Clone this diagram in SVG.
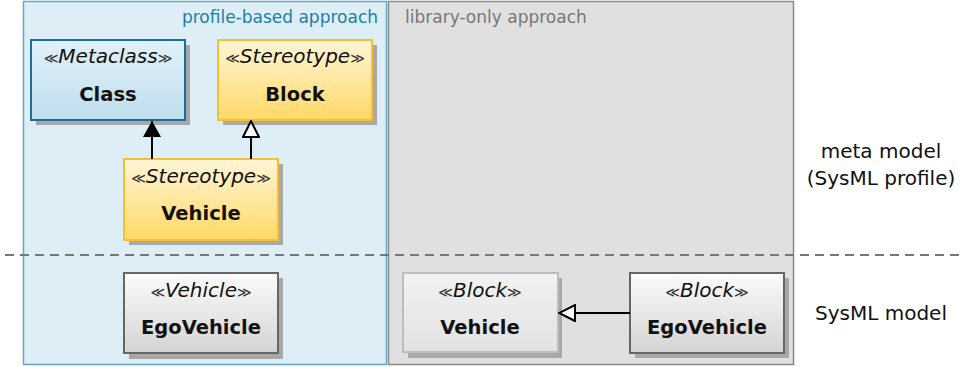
<svg xmlns="http://www.w3.org/2000/svg" width="965" height="367" viewBox="0 0 965 367">
<style>
text{font-family:"DejaVu Sans","Liberation Sans",sans-serif}
.st{font-style:italic;font-size:20px;text-anchor:middle;fill:#111}
.g{font-style:normal;font-size:14px;fill:#333}
.nm{font-weight:bold;font-size:19.5px;text-anchor:middle;fill:#111}
.lbl{font-size:20px;text-anchor:middle;fill:#111}
.sh{fill:#a8a8a8}
.conn{stroke:#000;stroke-width:2;fill:none}
</style>
<defs>
<linearGradient id="gBlue" x1="0" y1="0" x2="0" y2="1"><stop offset="0" stop-color="#e2f1f9"/><stop offset="1" stop-color="#bfdeee"/></linearGradient>
<linearGradient id="gYel" x1="0" y1="0" x2="0" y2="1"><stop offset="0" stop-color="#fff6d8"/><stop offset="1" stop-color="#ffd866"/></linearGradient>
<linearGradient id="gGray" x1="0" y1="0" x2="0" y2="1"><stop offset="0" stop-color="#fbfbfb"/><stop offset="1" stop-color="#d4d4d4"/></linearGradient>
<linearGradient id="gLight" x1="0" y1="0" x2="0" y2="1"><stop offset="0" stop-color="#f2f2f2"/><stop offset="1" stop-color="#e2e2e2"/></linearGradient>
<marker id="filled" viewBox="0 0 16 18" refX="16" refY="9" markerWidth="16" markerHeight="18" markerUnits="userSpaceOnUse" orient="auto"><path d="M0,0 L16,9 L0,18 Z" fill="#000"/></marker>
<marker id="hollow" viewBox="0 0 18 18" refX="17" refY="9" markerWidth="18" markerHeight="18" markerUnits="userSpaceOnUse" orient="auto"><path d="M1,1 L17,9 L1,17 Z" fill="#fff" stroke="#000" stroke-width="2"/></marker>
</defs>
<g id="panel-profile">
<rect x="23.5" y="1.5" width="363" height="363" fill="#deeef6" stroke="#5fa8c8" stroke-width="1.5"/>
<text x="378" y="23" font-size="17" fill="#1a7fa8" text-anchor="end">profile-based approach</text>
</g>
<g id="panel-library">
<rect x="388.5" y="1.5" width="405" height="363" fill="#e0e0e0" stroke="#8a8a8a" stroke-width="1.5"/>
<text x="405" y="23" font-size="17" fill="#777">library-only approach</text>
</g>
<line id="separator" x1="5" y1="255" x2="965" y2="255" stroke="#777" stroke-width="2" stroke-dasharray="9,6"/>
<g id="label-meta">
<text class="lbl" x="881" y="158">meta model</text>
<text class="lbl" x="881" y="185">(SysML profile)</text>
</g>
<g id="label-model"><text class="lbl" x="881" y="320">SysML model</text></g>
<g id="node-class">
<rect class="sh" x="36" y="45" width="154" height="80"/>
<rect x="31" y="40" width="154" height="80" fill="url(#gBlue)" stroke="#1a6f98" stroke-width="2"/>
<text class="st" x="108" y="63"><tspan class="g">≪</tspan>Metaclass<tspan class="g">≫</tspan></text>
<text class="nm" x="108" y="101">Class</text>
</g>
<g id="node-block">
<rect class="sh" x="223" y="45" width="154" height="80"/>
<rect x="218" y="40" width="154" height="80" fill="url(#gYel)" stroke="#f5c030" stroke-width="2"/>
<text class="st" x="295" y="63"><tspan class="g">≪</tspan>Stereotype<tspan class="g">≫</tspan></text>
<text class="nm" x="295" y="101">Block</text>
</g>
<g id="node-vehicle-stereo">
<rect class="sh" x="129" y="164" width="154" height="81"/>
<rect x="124" y="159" width="154" height="81" fill="url(#gYel)" stroke="#f5c030" stroke-width="2"/>
<text class="st" x="201" y="183"><tspan class="g">≪</tspan>Stereotype<tspan class="g">≫</tspan></text>
<text class="nm" x="201" y="220">Vehicle</text>
</g>
<g id="node-egovehicle-left">
<rect class="sh" x="129" y="278" width="154" height="81"/>
<rect x="124" y="273" width="154" height="80" fill="url(#gGray)" stroke="#666" stroke-width="2"/>
<text class="st" x="201" y="297"><tspan class="g">≪</tspan>Vehicle<tspan class="g">≫</tspan></text>
<text class="nm" x="201" y="334">EgoVehicle</text>
</g>
<g id="node-vehicle-block">
<rect class="sh" x="408" y="278" width="154" height="80"/>
<rect x="403" y="273" width="155" height="79" fill="url(#gLight)" stroke="#bdbdbd" stroke-width="2"/>
<text class="st" x="480" y="297"><tspan class="g">≪</tspan>Block<tspan class="g">≫</tspan></text>
<text class="nm" x="480" y="334">Vehicle</text>
</g>
<g id="node-egovehicle-right">
<rect class="sh" x="635" y="278" width="154" height="80"/>
<rect x="630" y="273" width="154" height="80" fill="url(#gGray)" stroke="#666" stroke-width="2"/>
<text class="st" x="707" y="297"><tspan class="g">≪</tspan>Block<tspan class="g">≫</tspan></text>
<text class="nm" x="707" y="334">EgoVehicle</text>
</g>
<g id="connectors">
<line class="conn" x1="152" y1="159" x2="152" y2="121" marker-end="url(#filled)"/>
<line class="conn" x1="251" y1="159" x2="251" y2="121" marker-end="url(#hollow)"/>
<line class="conn" x1="630" y1="313" x2="559" y2="313" marker-end="url(#hollow)"/>
</g>
</svg>
